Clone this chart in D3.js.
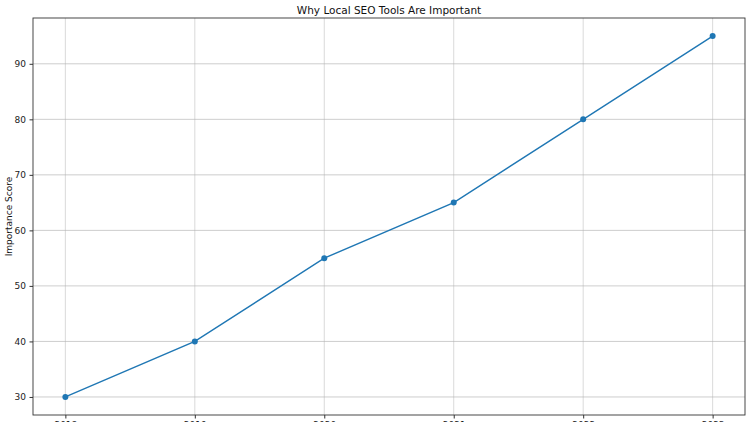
<!DOCTYPE html>
<html><head><meta charset="utf-8">
<script src="https://cdn.jsdelivr.net/npm/d3@7"></script>
<style>body{margin:0;background:#fff;} svg{display:block;font-family:"DejaVu Sans",sans-serif;}</style>
</head><body><svg id="c" width="750" height="422"></svg>
<script>
const categories = ["2018","2019","2020","2021","2022","2023"];
const scores = [30, 40, 55, 65, 80, 95];
const yTicks = [30, 40, 50, 60, 70, 80, 90];
const title = "Why Local SEO Tools Are Important";
const yLabel = "Importance Score";

const svg = d3.select("#c");
const m = {l: 33, r: 5, t: 18, b: 7};
const W = 750, H = 422;
const x = d3.scaleLinear().domain([-0.25, categories.length - 0.75]).range([m.l, W - m.r]);
const y = d3.scaleLinear().domain([26.75, 98.25]).range([H - m.b, m.t]);

const g = svg.append("g");
// grid
g.selectAll(".vg").data(categories).join("line")
  .attr("x1", (d,i)=>x(i)).attr("x2", (d,i)=>x(i)).attr("y1", m.t).attr("y2", H-m.b)
  .attr("stroke", "#b0b0b0").attr("stroke-opacity", 0.6).attr("stroke-width", 0.8);
g.selectAll(".hg").data(yTicks).join("line")
  .attr("x1", m.l).attr("x2", W-m.r).attr("y1", d=>y(d)).attr("y2", d=>y(d))
  .attr("stroke", "#b0b0b0").attr("stroke-opacity", 0.8).attr("stroke-width", 0.8);

// axes
const yAxis = d3.axisLeft(y).tickValues(yTicks).tickSize(3.5).tickPadding(3.5);
const ya = svg.append("g").attr("transform", `translate(${m.l},0)`).call(yAxis);
ya.select(".domain").remove();
ya.selectAll("text").attr("font-size", 9).attr("fill", "#222").attr("font-family", "DejaVu Sans");
ya.selectAll("line").attr("stroke", "#333");

const xAxis = d3.axisBottom(x).tickValues(d3.range(categories.length)).tickFormat(i=>categories[i]).tickSize(3.5).tickPadding(3.5);
const xa = svg.append("g").attr("transform", `translate(0,${H-m.b})`).call(xAxis);
xa.select(".domain").remove();
xa.selectAll("text").attr("font-size", 9).attr("fill", "#222").attr("font-family", "DejaVu Sans");
xa.selectAll("line").attr("stroke", "#333");

// frame
svg.append("rect").attr("x", m.l).attr("y", m.t).attr("width", W-m.l-m.r).attr("height", H-m.t-m.b)
  .attr("fill", "none").attr("stroke", "#333").attr("stroke-width", 0.9);

// line
const line = d3.line().x((d,i)=>x(i)).y(d=>y(d));
svg.append("path").datum(scores).attr("d", line).attr("fill", "none")
  .attr("stroke", "#1f77b4").attr("stroke-width", 1.4);
svg.selectAll(".pt").data(scores).join("circle")
  .attr("cx", (d,i)=>x(i)).attr("cy", d=>y(d)).attr("r", 3).attr("fill", "#1f77b4");

svg.append("text").attr("x", (m.l + W - m.r)/2).attr("y", 13.5).attr("text-anchor", "middle")
  .attr("font-size", 10.5).attr("fill", "#111").text(title);
svg.append("text").attr("transform", `translate(12,${(m.t + H - m.b)/2}) rotate(-90)`)
  .attr("text-anchor", "middle").attr("font-size", 9).attr("fill", "#111").text(yLabel);
</script></body></html>
